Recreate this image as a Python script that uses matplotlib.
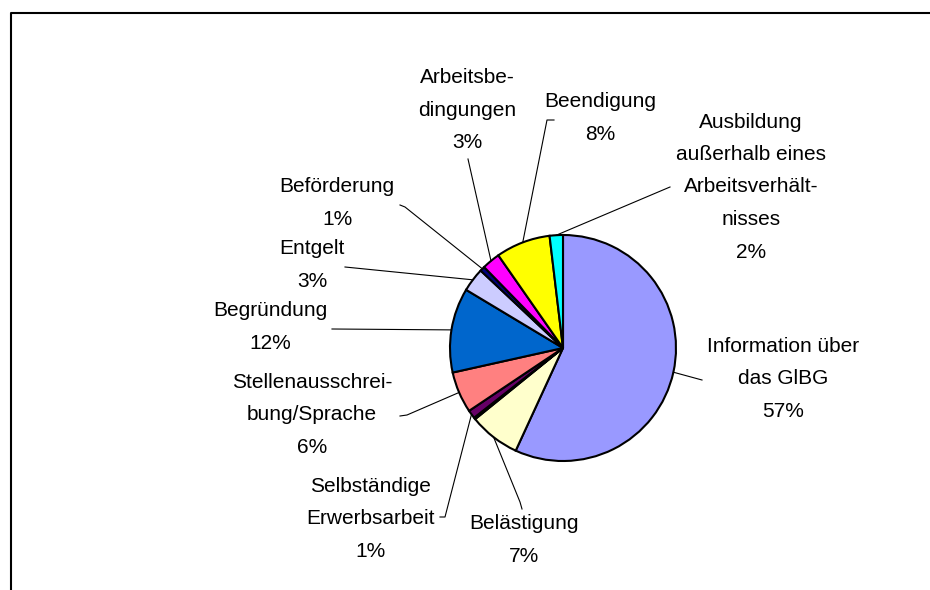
import numpy as np
import matplotlib.pyplot as plt

plt.rcParams['font.family'] = ['Liberation Sans', 'DejaVu Sans']

# data, clockwise from 12 o'clock
categories = ["Information über\ndas GlBG", "Belästigung", "", "Selbständige\nErwerbsarbeit",
              "Stellenausschrei-\nbung/Sprache", "Begründung", "Entgelt", "Beförderung",
              "Arbeitsbe-\ndingungen", "Beendigung",
              "Ausbildung\naußerhalb eines\nArbeitsverhält-\nnisses"]
values = [56.9, 7.3, 0.25, 1.2, 5.9, 12.1, 3.4, 0.7, 2.6, 7.8, 1.9]
colors = ["#9999FF", "#FFFFCC", "#008080", "#660066", "#FF8080", "#0066CC",
          "#CCCCFF", "#000080", "#FF00FF", "#FFFF00", "#00FFFF"]

W, H = 930, 590
cx, cy, r = 563, 348, 113   # pie centre / radius in pixels (y from top)

# label centres and leader line end points, pixels from top-left
label_pos = [(783, 379), (524, 540), None, (370, 519), (312, 415), (270, 327),
             (312, 265), (337, 203), (467, 110), (600, 118), (751, 187)]
leader_end = [[(702, 380)], [(520, 502), (522, 509)], None, [(445, 517), (440, 517)],
              [(407, 415), (400, 416)], [(332, 329)], [(345, 267)],
              [(405, 207), (400, 205)], [(468, 159)], [(547, 120), (554, 120)],
              [(670, 187)]]

fig = plt.figure(figsize=(9.3, 5.9), dpi=100)
ax = fig.add_axes([0, 0, 1, 1])
wedges, _ = ax.pie(values, colors=colors, startangle=90, counterclock=False,
                   center=(cx, H - cy), radius=r,
                   wedgeprops=dict(edgecolor='black', linewidth=1.5))
ax.set_xlim(0, W)
ax.set_ylim(0, H)
ax.set_aspect('equal')
ax.axis('off')

total = sum(values)
for w, name, v, pos, ends in zip(wedges, categories, values, label_pos, leader_end):
    if pos is None:
        continue
    ang = np.deg2rad((w.theta1 + w.theta2) / 2)
    ex = cx + r * np.cos(ang)
    ey = (H - cy) + r * np.sin(ang)
    pts = [(ex, ey)] + [(x, H - y) for x, y in ends]
    xs, ys = zip(*pts)
    ax.plot(xs, ys, color='black', lw=0.8)
    ax.text(pos[0], H - pos[1], f"{name}\n{round(100 * v / total)}%",
            ha='center', va='center', fontsize=15, linespacing=1.9)

# chart frame (cut off at right/bottom in the original)
ax.plot([11, 11, W + 10], [-10, H - 13, H - 13], color='black', lw=1.5)

fig.savefig("out.png", dpi=100)
